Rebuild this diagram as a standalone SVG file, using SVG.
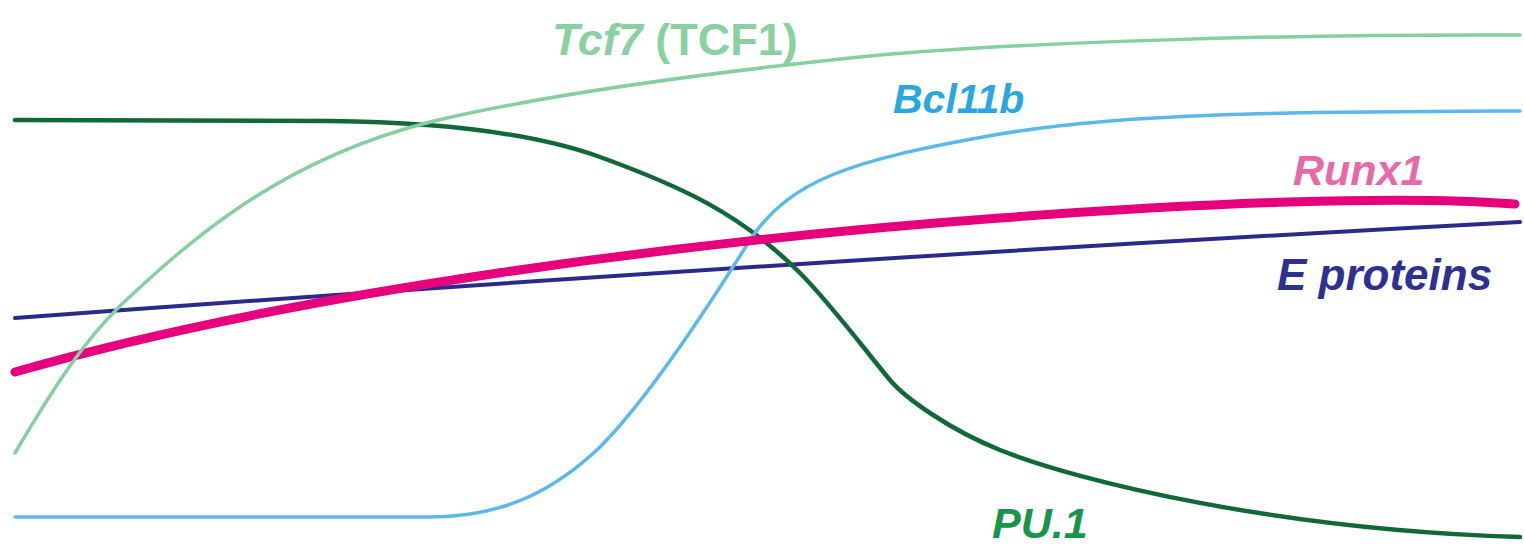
<svg xmlns="http://www.w3.org/2000/svg" width="1524" height="544" viewBox="0 0 1524 544">
<style>
  .c { fill: none; stroke-linecap: round; stroke-linejoin: round; }
  .lbl { font-family: "Liberation Sans", Arial, sans-serif; font-weight: bold; font-style: italic; }
  .up { font-style: normal; }
</style>
<rect width="1524" height="544" fill="#ffffff"/>
<g id="e-proteins">
  <path class="c" d="M15,318 Q800,260 1520,222" stroke="#2a2a8a" stroke-width="4"/>
  <text class="lbl" x="1277" y="290" font-size="44" fill="#2e3192">E proteins</text>
</g>
<g id="pu1">
  <path class="c" d="M15,120 L330,121 C430,122 530,132 600,157 C680,186 740,213 800,273 C830,303 865,350 890,380 C905,398 950,430 1000,450 C1080,482 1280,530 1520,537" stroke="#11693a" stroke-width="4.5"/>
  <text class="lbl" x="992" y="538" font-size="43" fill="#17954a">PU.1</text>
</g>
<g id="bcl11b">
  <path class="c" d="M15,517 L430,517 C510,517 560,485 600,447 C645,402 700,320 750,240 C790,180 850,160 1000,134 C1130,112 1300,112 1520,111" stroke="#5ab9ea" stroke-width="3.5"/>
  <text class="lbl" x="893" y="113" font-size="41" fill="#2aa7df">Bcl11b</text>
</g>
<g id="runx1">
  <path class="c" d="M15,372 C300,290 700,240 1000,218 C1200,203 1400,195 1515,204" stroke="#e6007e" stroke-width="9"/>
  <text class="lbl" x="1293" y="185" font-size="43" fill="#e66aa8">Runx1</text>
</g>
<g id="tcf7">
  <path class="c" d="M15,453 C55,385 85,340 120,306 C190,240 280,160 430,122 C530,98 680,76 850,58 C1000,42 1300,34 1520,35" stroke="#86cfa0" stroke-width="3.5"/>
  <text class="lbl" x="552" y="55" font-size="45" fill="#8bd0a2">Tcf7<tspan class="up"> (TCF1)</tspan></text>
</g>
</svg>
